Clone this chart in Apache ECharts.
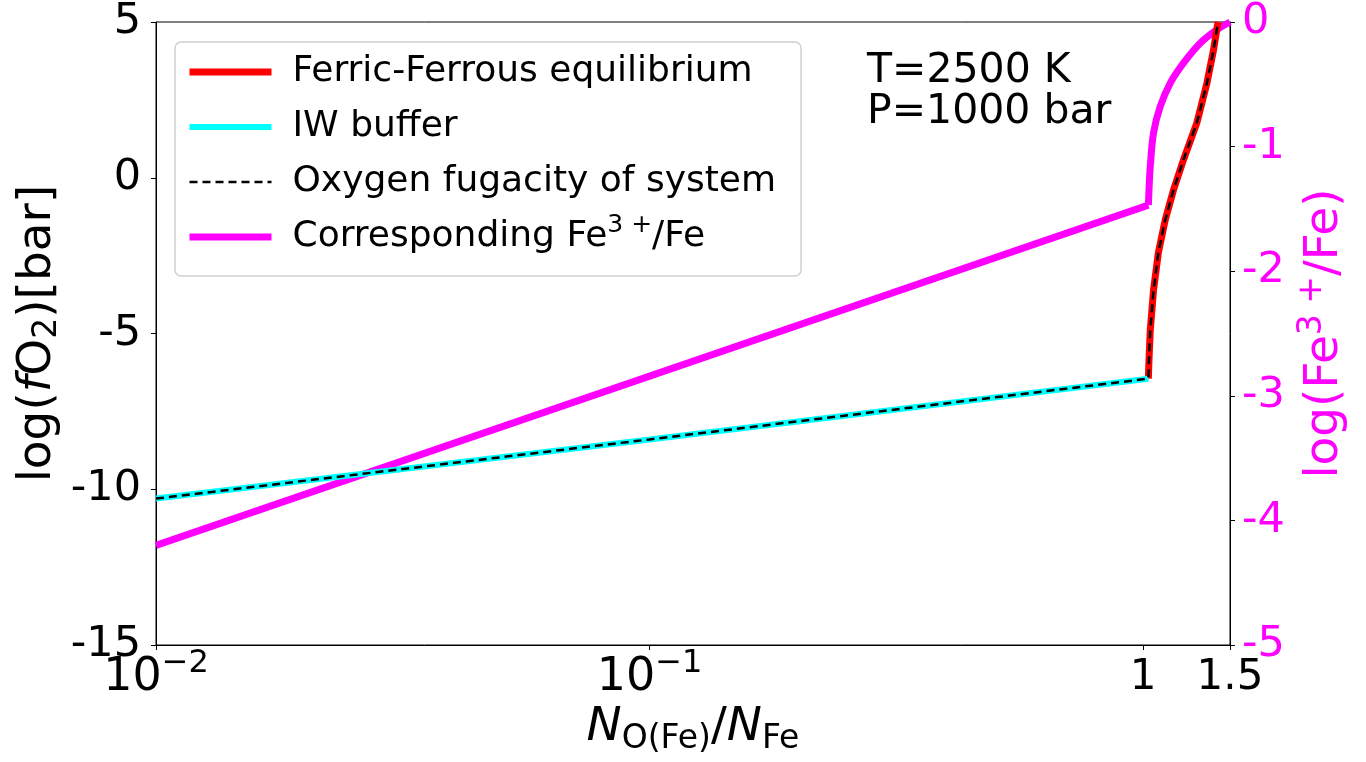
<!DOCTYPE html>
<html>
<head>
<meta charset="utf-8">
<script src="https://cdn.jsdelivr.net/npm/echarts@6/dist/echarts.min.js"></script>
<style>
html,body{margin:0;padding:0;background:#fff;}
#chart{width:1366px;height:762px;}
</style>
</head>
<body>
<div id="chart"></div>
<script>
// ---- Data ----
var xTicks = [0.01, 0.1, 1, 1.5];
var xTickLabels = ['{b|10}{s|\u22122}', '{b|10}{s|\u22121}', '1', '1.5'];
var leftTicks = [-15, -10, -5, 0, 5];
var rightTicks = [-5, -4, -3, -2, -1, 0];

// IW buffer, log(fO2) [bar]
var iwX = [0.01, 0.1, 1.025];
var iwY = [-10.30, -8.40, -6.45];

// Ferric-Ferrous equilibrium, log(fO2) [bar]
var ffX = [1.025, 1.027, 1.034, 1.050, 1.074, 1.109, 1.152, 1.207, 1.285, 1.347, 1.389, 1.415, 1.420];
var ffY = [-6.45, -6.00, -4.90, -3.60, -2.40, -1.35, -0.40, 0.57, 1.76, 3.04, 4.10, 4.90, 5.00];

// Oxygen fugacity of system (follows IW, then ferric-ferrous)
var sysX = [0.01, 0.1, 1.025, 1.027, 1.034, 1.050, 1.074, 1.109, 1.152, 1.207, 1.285, 1.347, 1.389, 1.415, 1.420];
var sysY = [-10.30, -8.40, -6.45, -6.00, -4.90, -3.60, -2.40, -1.35, -0.40, 0.57, 1.76, 3.04, 4.10, 4.90, 5.00];

// Corresponding log(Fe3+/Fe) (right axis): straight part, then curved part
var feLinX = [0.01, 1.025];
var feLinY = [-4.20, -1.47];
var feCurX = [1.025, 1.030, 1.034, 1.050, 1.083, 1.135, 1.207, 1.305, 1.414, 1.5];
var feCurY = [-1.47, -1.27, -1.16, -0.89, -0.68, -0.49, -0.33, -0.17, -0.06, 0.00];

var seriesNames = ['Ferric-Ferrous equilibrium', 'IW buffer', 'Oxygen fugacity of system', 'Corresponding Fe3+/Fe'];

function pairs(xs, ys) { return xs.map(function (x, i) { return [x, ys[i]]; }); }

var FONT = 'DejaVu Sans';
var chart = echarts.init(document.getElementById('chart'), null, {renderer: 'canvas'});

var magentaStyle = {color: '#ff00ff', width: 7, cap: 'butt', join: 'miter'};

var option = {
  animation: false,
  backgroundColor: '#ffffff',
  textStyle: {fontFamily: FONT},
  grid: {
    left: 156, right: 136, top: 22, bottom: 117,
    show: true, borderColor: '#000', borderWidth: 1, backgroundColor: 'transparent',
    outerBoundsMode: 'none'
  },
  legend: {
    show: true,
    data: seriesNames,
    orient: 'vertical',
    left: 175, top: 42,
    padding: [6, 25, 15, 11],
    itemWidth: 82, itemHeight: 14, itemGap: 7,
    backgroundColor: 'rgba(255,255,255,0.8)',
    borderColor: '#d0d0d0', borderWidth: 1.5, borderRadius: 6,
    lineStyle: {width: 'inherit'},
    itemStyle: {opacity: 0},
    selectedMode: false,
    formatter: function (name) {
      if (name === 'Corresponding Fe3+/Fe') return 'Corresponding Fe{sup|3 +}/Fe';
      return name;
    },
    textStyle: {
      fontFamily: FONT, fontSize: 36, lineHeight: 48, color: '#000',
      padding: [0, 0, 0, 16],
      rich: {
        sup: {fontFamily: FONT, fontSize: 25, lineHeight: 24, verticalAlign: 'top', color: '#000'}
      }
    }
  },
  xAxis: {
    type: 'log', logBase: 10, min: 0.01, max: 1.5,
    name: '{i|N}{sub|O(Fe)}{b|/}{i|N}{sub|Fe}',
    nameLocation: 'middle', nameGap: 54, nameMoveOverlap: false,
    nameTextStyle: {
      fontFamily: FONT, fontSize: 47, lineHeight: 57, color: '#000', verticalAlign: 'top',
      rich: {
        i: {fontFamily: FONT, fontStyle: 'italic', fontSize: 47, lineHeight: 57, color: '#000'},
        b: {fontFamily: FONT, fontSize: 47, lineHeight: 57, color: '#000'},
        sub: {fontFamily: FONT, fontSize: 33, lineHeight: 33, verticalAlign: 'bottom', color: '#000'}
      }
    },
    axisLine: {show: true, onZero: false, lineStyle: {color: '#000', width: 1}},
    axisTick: {show: true, inside: false, length: 5, lineStyle: {color: '#000', width: 1}, customValues: xTicks},
    minorTick: {show: false},
    splitLine: {show: false},
    axisLabel: {
      customValues: xTicks,
      margin: 3,
      fontFamily: FONT, fontSize: 42, lineHeight: 60, color: '#000',
      formatter: function (v) {
        for (var i = 0; i < xTicks.length; i++) {
          if (Math.abs(Math.log10(v) - Math.log10(xTicks[i])) < 1e-6) return xTickLabels[i];
        }
        return '';
      },
      rich: {
        b: {fontFamily: FONT, fontSize: 46, lineHeight: 60, color: '#000'},
        s: {fontFamily: FONT, fontSize: 32, lineHeight: 22, verticalAlign: 'top', color: '#000'}
      }
    }
  },
  yAxis: [
    {
      type: 'value', min: -15, max: 5, interval: 5, position: 'left',
      name: 'log({i|f}O{sub|2})[bar]',
      nameLocation: 'middle', nameGap: 92, nameRotate: 90, nameMoveOverlap: false,
      nameTextStyle: {
        fontFamily: FONT, fontSize: 47, lineHeight: 53, color: '#000',
        rich: {
          i: {fontFamily: FONT, fontStyle: 'italic', fontSize: 47, lineHeight: 53, color: '#000'},
          sub: {fontFamily: FONT, fontSize: 33, lineHeight: 33, verticalAlign: 'bottom', color: '#000'}
        }
      },
      axisLine: {show: true, onZero: false, lineStyle: {color: '#000', width: 1}},
      axisTick: {show: true, inside: false, length: 5, lineStyle: {color: '#000', width: 1}},
      splitLine: {show: false},
      axisLabel: {
        margin: 15, fontFamily: FONT, fontSize: 43, color: '#000',
        formatter: function (v) { return String(v); }
      }
    },
    {
      type: 'value', min: -5, max: 0, interval: 1, position: 'right',
      name: 'log(Fe{sup|3 +}/Fe)',
      nameLocation: 'middle', nameGap: 66, nameRotate: 90, nameMoveOverlap: false,
      nameTextStyle: {
        fontFamily: FONT, fontSize: 47, lineHeight: 57, color: '#ff00ff',
        rich: {
          sup: {fontFamily: FONT, fontSize: 33, lineHeight: 33, verticalAlign: 'top', color: '#ff00ff'}
        }
      },
      axisLine: {show: true, onZero: false, lineStyle: {color: '#000', width: 1}},
      axisTick: {show: true, inside: false, length: 5, lineStyle: {color: '#000', width: 1}},
      splitLine: {show: false},
      axisLabel: {
        margin: 12, fontFamily: FONT, fontSize: 43, color: '#ff00ff',
        formatter: function (v) { return String(v); }
      }
    }
  ],
  series: [
    {
      name: 'Corresponding Fe3+/Fe', type: 'line', yAxisIndex: 1,
      data: pairs(feLinX, feLinY), symbol: 'none', showSymbol: false,
      lineStyle: magentaStyle, itemStyle: {color: '#ff00ff'}, z: 2
    },
    {
      name: 'Corresponding Fe3+/Fe', type: 'line', yAxisIndex: 1,
      data: pairs(feCurX, feCurY), symbol: 'none', showSymbol: false,
      smooth: 0.35,
      lineStyle: magentaStyle, itemStyle: {color: '#ff00ff'}, z: 2
    },
    {
      name: 'Ferric-Ferrous equilibrium', type: 'line', yAxisIndex: 0,
      data: pairs(ffX, ffY), symbol: 'none', showSymbol: false,
      lineStyle: {color: '#ff0000', width: 7, cap: 'butt'},
      itemStyle: {color: '#ff0000'}, z: 3
    },
    {
      name: 'IW buffer', type: 'line', yAxisIndex: 0,
      data: pairs(iwX, iwY), symbol: 'none', showSymbol: false,
      lineStyle: {color: '#00ffff', width: 6, cap: 'butt'},
      itemStyle: {color: '#00ffff'}, z: 4
    },
    {
      name: 'Oxygen fugacity of system', type: 'line', yAxisIndex: 0,
      data: pairs(sysX, sysY), symbol: 'none', showSymbol: false,
      lineStyle: {color: '#000000', width: 2.5, type: [8, 5], cap: 'butt'},
      itemStyle: {color: '#000000'}, z: 5
    }
  ],
  graphic: [
    {
      type: 'text', left: 867, top: 51,
      style: {
        text: 'T=2500 K\nP=1000 bar',
        font: '41px "DejaVu Sans"', lineHeight: 41, fill: '#000'
      },
      z: 10
    }
  ]
};
chart.setOption(option);
</script>
</body>
</html>
